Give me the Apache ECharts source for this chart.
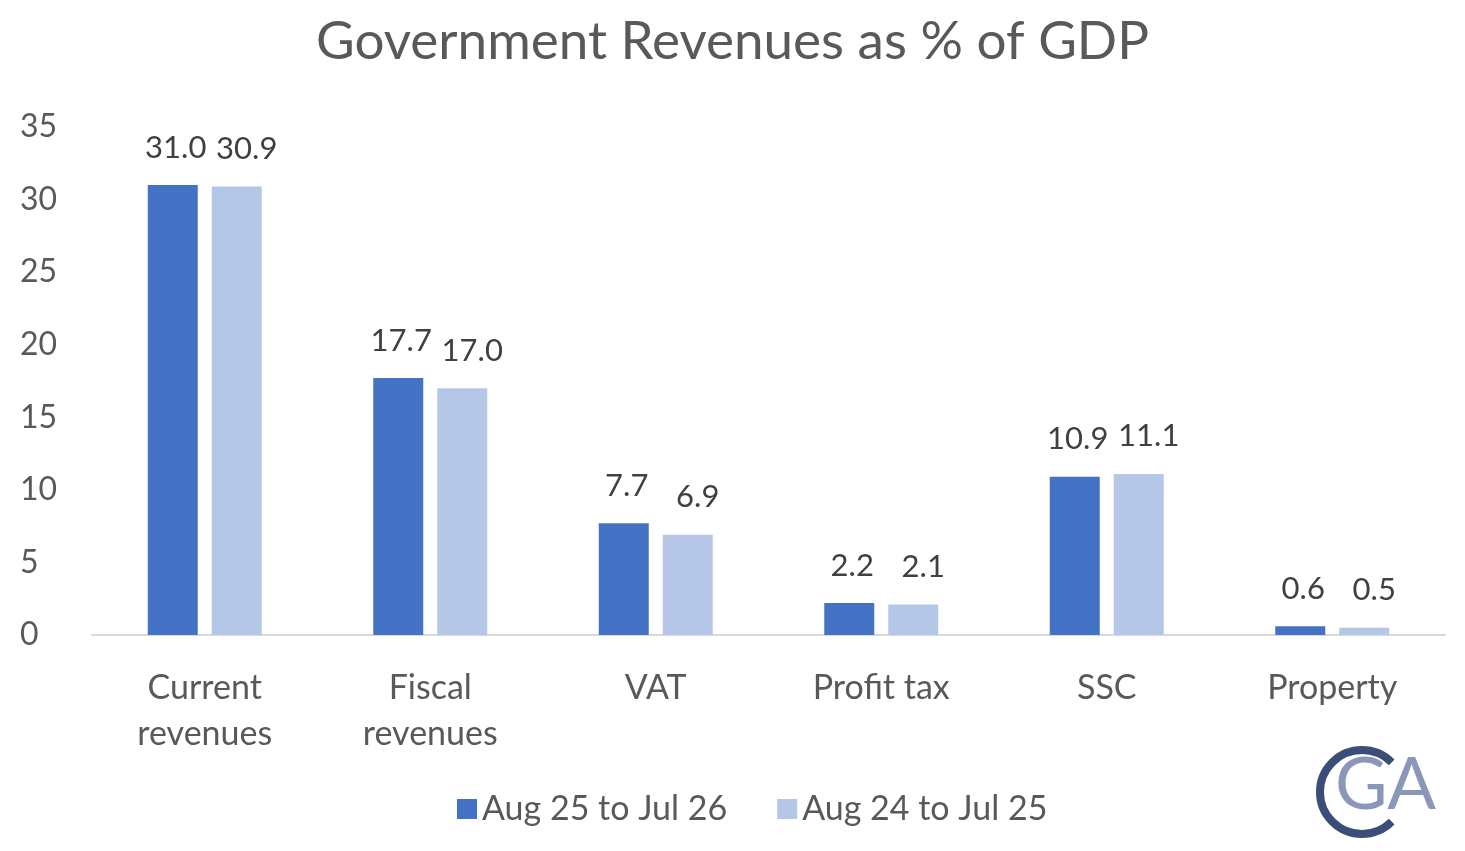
<!DOCTYPE html>
<html><head><meta charset="utf-8">
<script src="https://cdn.jsdelivr.net/npm/echarts@6/dist/echarts.min.js"></script>
<style>html,body{margin:0;padding:0;background:#fff}#c{width:1465px;height:851px}</style>
</head><body><div id="c"></div>
<script>
const categories = ['Current\nrevenues', 'Fiscal\nrevenues', 'VAT', 'Profit tax', 'SSC', 'Property'];
const seriesNames = ['Aug 25 to Jul 26', 'Aug 24 to Jul 25'];
const recent = [31.0, 17.7, 7.7, 2.2, 10.9, 0.6];
const previous = [30.9, 17.0, 6.9, 2.1, 11.1, 0.5];
const colors = ['#4472C4', '#B4C7E7'];
const font = 'Lato, "Noto Sans", sans-serif';
const chart = echarts.init(document.getElementById('c'));
const lbl = {show: true, position: 'top', distance: 22, formatter: p => p.value.toFixed(1), fontSize: 31, color: '#404040', fontFamily: font};
chart.setOption({
  animation: false,
  title: {text: 'Government Revenues as % of GDP', left: 'center', top: 10, textStyle: {fontSize: 53, fontWeight: 'normal', color: '#595959', fontFamily: font}},
  grid: {left: 92, right: 20, top: 127, bottom: 216},
  legend: {bottom: 20, left: 452, itemWidth: 20, itemHeight: 20, itemGap: 50, icon: 'rect', textStyle: {fontSize: 34, color: '#595959', fontFamily: font}},
  xAxis: {type: 'category', data: categories, axisTick: {show: false}, axisLine: {lineStyle: {color: '#D9D9D9', width: 2}},
    axisLabel: {fontSize: 34, color: '#595959', fontFamily: font, margin: 30, lineHeight: 46}},
  yAxis: {type: 'value', min: 0, max: 35, interval: 5, splitLine: {show: false},
    axisLabel: {fontSize: 32, color: '#595959', fontFamily: font, margin: 72, align: 'left'}},
  series: [
    {name: seriesNames[0], type: 'bar', data: recent, itemStyle: {color: colors[0]}, barWidth: 50, barGap: '28%', label: Object.assign({}, lbl, {offset: [3, 0]})},
    {name: seriesNames[1], type: 'bar', data: previous, itemStyle: {color: colors[1]}, barWidth: 50, label: Object.assign({}, lbl, {offset: [10, 0]})}
  ],
  graphic: [
    {type: 'arc', shape: {cx: 1362, cy: 792, r: 42, startAngle: Math.PI*0.25, endAngle: Math.PI*1.75, clockwise: true}, style: {stroke: '#3B4E78', lineWidth: 8, fill: null}},
    {type: 'text', left: 1335, top: 750, style: {text: 'GA', fontSize: 72, fill: '#8A97B8', fontFamily: font}}
  ]
});
</script></body></html>
